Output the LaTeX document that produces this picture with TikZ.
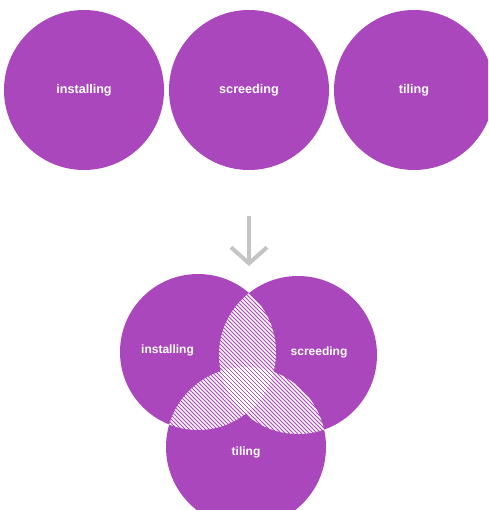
\documentclass[tikz,border=0pt]{standalone}
\usepackage{fontspec}
\setmainfont{Liberation Sans}
\usetikzlibrary{arrows.meta}
\definecolor{plum}{HTML}{AB47BC}
\definecolor{arrowgrey}{HTML}{C4C4C4}

\tikzset{
  bubble/.style={circle, fill=plum, inner sep=0pt, minimum size=160pt},
  caption/.style={text=white, inner sep=0pt, font=\bfseries\fontsize{12.6}{15}\selectfont},
  smallcaption/.style={caption, font=\bfseries\fontsize{12}{14}\selectfont},
  hatch/.style={white, line width=1.5pt},
  pointer/.style={draw=arrowgrey, line width=4pt, -{Straight Barb[length=16pt, width=36pt]}},
}

\begin{document}
\begin{tikzpicture}[x=1pt,y=-1pt]
    \useasboundingbox (0,0) rectangle (488,510);
    \clip (0,0) rectangle (488,510);

    % separate steps
    \node (installing) at (84,90) [bubble]{};
    \node (screeding) at (249,90) [bubble]{};
    \node (tiling) at (414,90) [bubble]{};

    \node (installingtext) at (84,90) [caption]{installing};
    \node (screedingtext) at (249,90) [caption]{screeding};
    \node (tilingtext) at (414,90) [caption]{tiling};

    % arrow
    \coordinate (arrowtop) at (249,216);
    \coordinate (arrowtip) at (249,266);
    \draw[pointer] (arrowtop) -- (arrowtip);

    % combined steps
    \node (vinstalling) at (198,352) [bubble, minimum size=156pt]{};
    \node (vscreeding) at (298,355) [bubble, minimum size=158pt]{};
    \node (vtiling) at (246,447) [bubble]{};

    \begin{scope}
      \clip (vinstalling.center) circle[radius=78];
      \clip (vscreeding.center) circle[radius=79];
      \foreach \k in {-100,-96,...,400}
        \draw[hatch] (\k,250) -- ++(300,300);
    \end{scope}
    \begin{scope}
      \clip (vinstalling.center) circle[radius=78];
      \clip (vtiling.center) circle[radius=80];
      \foreach \k in {-100,-96,...,400}
        \draw[hatch] (\k,250) -- ++(300,300);
    \end{scope}
    \begin{scope}
      \clip (vscreeding.center) circle[radius=79];
      \clip (vtiling.center) circle[radius=80];
      \foreach \k in {-100,-96,...,400}
        \draw[hatch] (\k,250) -- ++(300,300);
    \end{scope}

    \node (vinstallingtext) at (167.5,350) [smallcaption]{installing};
    \node (vscreedingtext) at (319,352) [smallcaption]{screeding};
    \node (vtilingtext) at (246,452) [smallcaption]{tiling};
\end{tikzpicture}
\end{document}
